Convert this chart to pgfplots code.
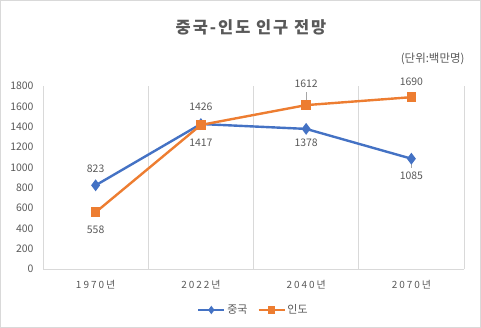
\documentclass[border=0pt]{standalone}
\usepackage{pgfplots}
\pgfplotsset{compat=1.18}
\usepackage{fontspec}
\setmainfont{Noto Sans CJK KR}
\newfontfamily\spaced[LetterSpace=20]{Noto Sans CJK KR}
\newfontfamily\titlefont[LetterSpace=12]{Noto Sans CJK KR}
\definecolor{cblue}{HTML}{4472C4}
\definecolor{corange}{HTML}{ED7D31}
\definecolor{txt}{HTML}{595959}
\definecolor{gridc}{HTML}{D9D9D9}
\definecolor{leader}{HTML}{A6A6A6}
\pgfplotsset{lbl/.style={draw=none, mark=none, forget plot, nodes near coords, point meta=y,
  every node near coord/.style={anchor=center, yshift=#1, font=\fontsize{10.5}{12}\selectfont, text=txt}}}
\begin{document}
\begin{tikzpicture}
\useasboundingbox (0,0) rectangle (481bp,328bp);
\draw[gridc, line width=0.8bp] (0.5bp,0.5bp) rectangle (480.5bp,327.5bp);
\node[text=txt, font=\titlefont\bfseries\fontsize{16.5}{19}\selectfont] at (251bp,301bp) {중국-인도 인구 전망};
\node[text=txt, font=\fontsize{11.5}{13}\selectfont, anchor=east] at (468bp,269bp) {(단위:백만명)};
\begin{axis}[
  at={(43bp,59bp)}, anchor=south west,
  scale only axis, width=421bp, height=183bp,
  xmin=-0.5, xmax=3.5, ymin=0, ymax=1800,
  xtick={0,1,2,3},
  xticklabels={1970년,2022년,2040년,2070년},
  ytick={0,200,...,1800},
  minor xtick={-0.5,0.5,1.5,2.5,3.5},
  xminorgrids,
  minor x grid style={gridc, line width=0.8bp},
  major tick length=0pt, minor tick length=0pt,
  axis line style={draw=none},
  /pgf/number format/assume math mode=true,
  /pgf/number format/1000 sep={},
  x tick label style={font=\spaced\fontsize{10}{12}\selectfont, text=txt, yshift=-8bp},
  y tick label style={font=\fontsize{10.5}{12}\selectfont, text=txt, xshift=-6bp},
  clip=false,
  legend style={at={(0.5,-0.224)}, anchor=center, draw=none, fill=none,
    font=\fontsize{11}{13}\selectfont, text=txt,
    legend columns=2,
    /tikz/every even column/.append style={column sep=8bp}},
  legend image code/.code={\draw[line width=2bp, mark size=2.6bp, mark repeat=2,mark phase=2] plot coordinates {(0bp,0bp)(13bp,0bp)(26bp,0bp)};},
]
\draw[gridc, line width=0.8bp] (axis cs:-0.5,0) -- (axis cs:3.5,0);
\draw[leader, line width=0.6bp] ([yshift=3bp]axis cs:2,1612) -- ([yshift=13bp]axis cs:2,1612);
\draw[leader, line width=0.6bp] ([yshift=-3bp]axis cs:3,1085) -- ([yshift=-9bp]axis cs:3,1085);
\addplot[cblue, line width=2.4bp, mark=diamond*, mark size=4bp, mark options={fill=cblue}] coordinates {(0,823) (1,1426) (2,1378) (3,1085)};
\addlegendentry{중국}
\addplot[corange, line width=2.4bp, mark=square*, mark size=3.6bp, mark options={fill=corange}] coordinates {(0,558) (1,1417) (2,1612) (3,1690)};
\addlegendentry{인도}
% data labels
\addplot[lbl=17bp] coordinates {(0,823) (1,1426)};
\addplot[lbl=-14bp] coordinates {(2,1378)};
\addplot[lbl=-17bp] coordinates {(3,1085)};
\addplot[lbl=-18bp] coordinates {(0,558) (1,1417)};
\addplot[lbl=21bp] coordinates {(2,1612)};
\addplot[lbl=15bp] coordinates {(3,1690)};
\end{axis}
\end{tikzpicture}
\end{document}
